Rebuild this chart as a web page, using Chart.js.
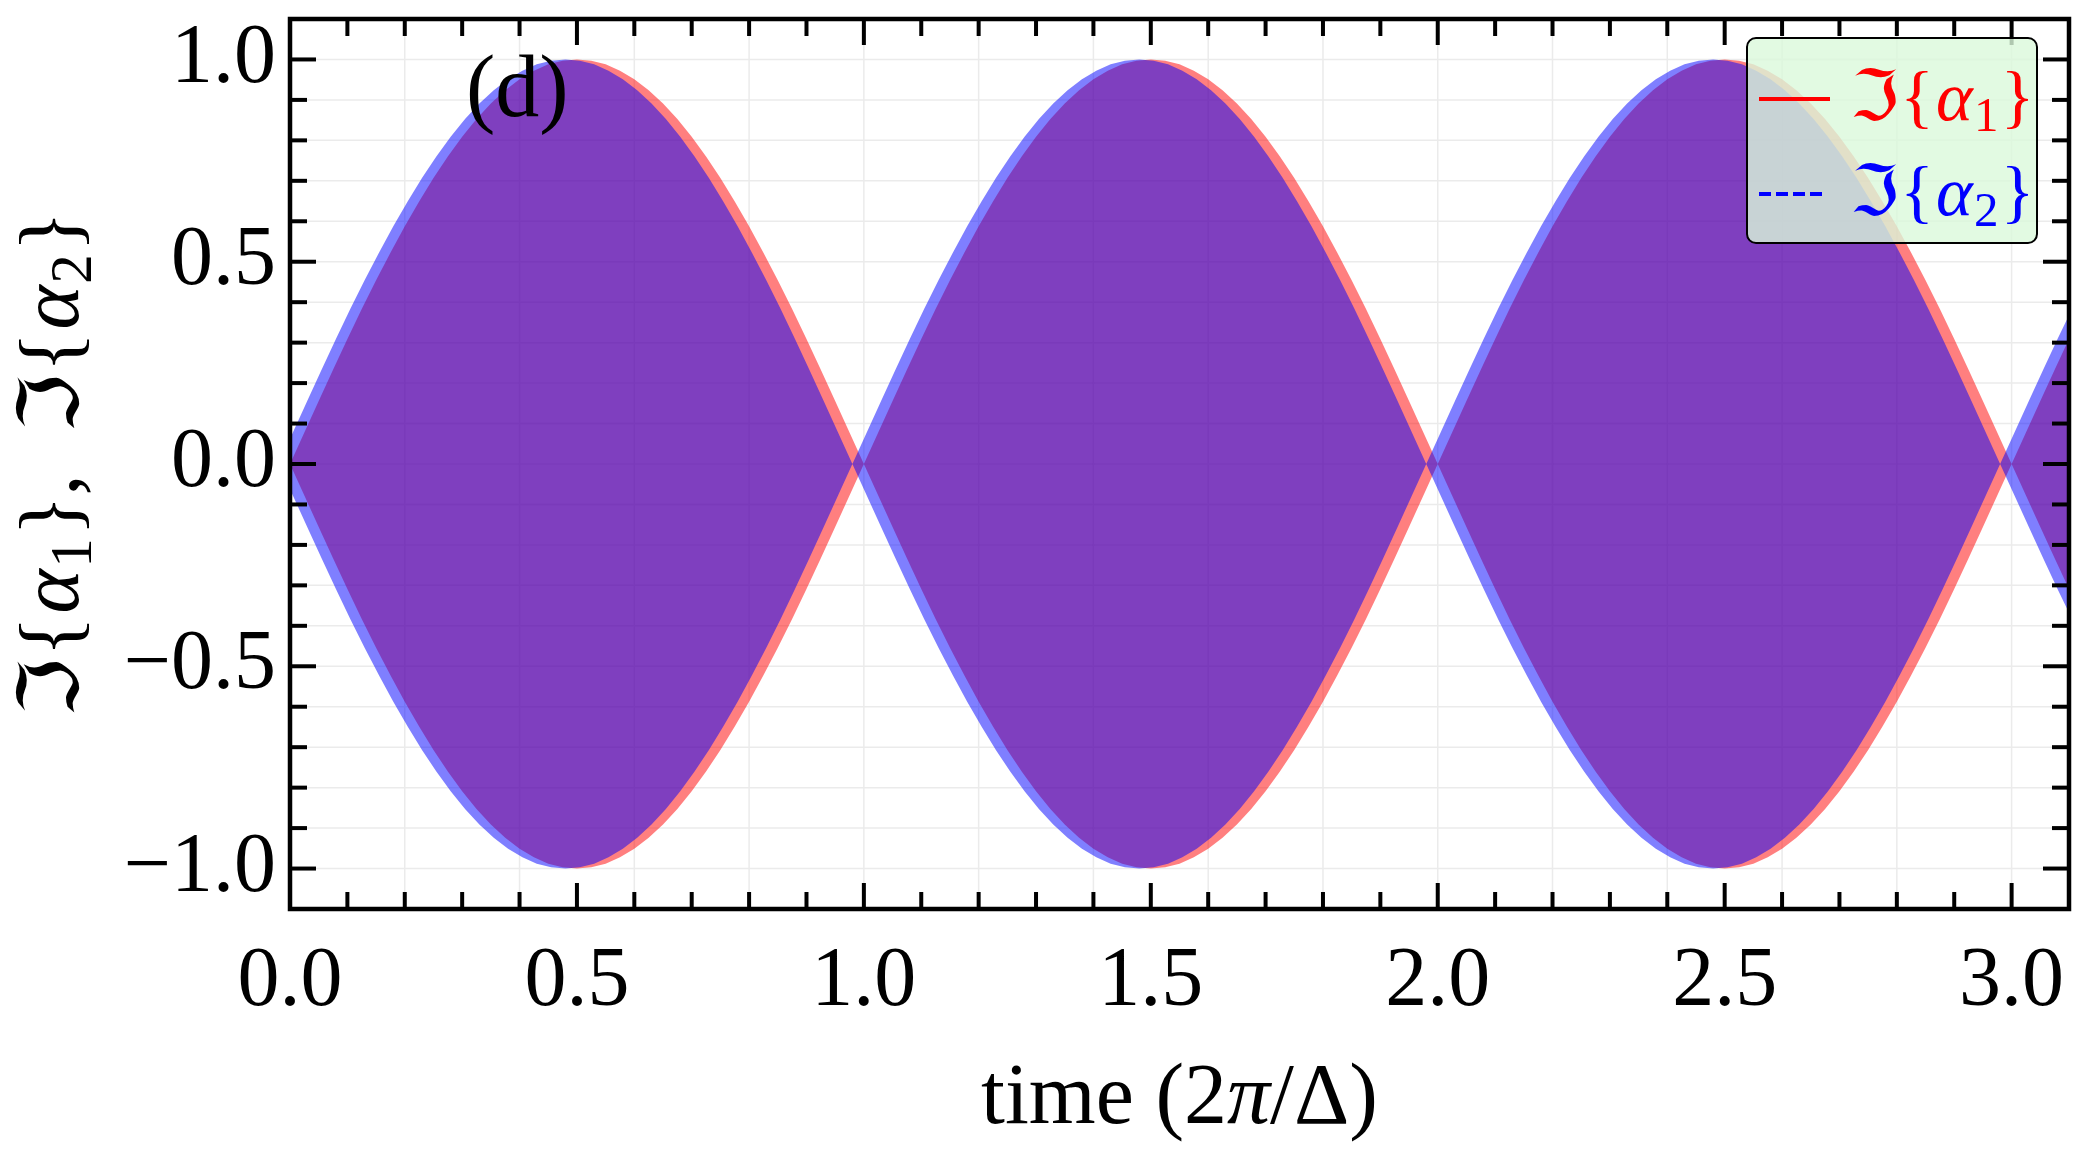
<!DOCTYPE html>
<html><head><meta charset="utf-8">
<script src="https://cdn.jsdelivr.net/npm/chart.js@4.4.1/dist/chart.umd.min.js"></script>
<style>html,body{margin:0;padding:0;background:#fff;}canvas{display:block;}</style>
</head><body>
<canvas id="c" width="2084" height="1161"></canvas>
<script>
// ---- data (envelope of the fast oscillation) ----
const seriesLabels = ['\u2111{\u03b1\u2081}', '\u2111{\u03b1\u2082}'];
const timeA1 = [
 0.000,0.025,0.050,0.075,0.100,0.125,0.150,0.175,0.200,0.225,
 0.250,0.275,0.300,0.325,0.350,0.375,0.400,0.425,0.450,0.475,
 0.500,0.525,0.550,0.575,0.600,0.625,0.650,0.675,0.700,0.725,
 0.750,0.775,0.800,0.825,0.850,0.875,0.900,0.925,0.950,0.975,
 1.000,1.025,1.050,1.075,1.100,1.125,1.150,1.175,1.200,1.225,
 1.250,1.275,1.300,1.325,1.350,1.375,1.400,1.425,1.450,1.475,
 1.500,1.525,1.550,1.575,1.600,1.625,1.650,1.675,1.700,1.725,
 1.750,1.775,1.800,1.825,1.850,1.875,1.900,1.925,1.950,1.975,
 2.000,2.025,2.050,2.075,2.100,2.125,2.150,2.175,2.200,2.225,
 2.250,2.275,2.300,2.325,2.350,2.375,2.400,2.425,2.450,2.475,
 2.500,2.525,2.550,2.575,2.600,2.625,2.650,2.675,2.700,2.725,
 2.750,2.775,2.800,2.825,2.850,2.875,2.900,2.925,2.950,2.975,
 3.000,3.025,3.050,3.075,3.100];
const envA1 = [
 0.000,0.078,0.156,0.233,0.309,0.383,0.454,0.522,0.588,0.649,
 0.707,0.760,0.809,0.853,0.891,0.924,0.951,0.972,0.988,0.997,
 1.000,0.997,0.988,0.972,0.951,0.924,0.891,0.853,0.809,0.760,
 0.707,0.649,0.588,0.522,0.454,0.383,0.309,0.233,0.156,0.078,
 0.000,0.078,0.156,0.233,0.309,0.383,0.454,0.522,0.588,0.649,
 0.707,0.760,0.809,0.853,0.891,0.924,0.951,0.972,0.988,0.997,
 1.000,0.997,0.988,0.972,0.951,0.924,0.891,0.853,0.809,0.760,
 0.707,0.649,0.588,0.522,0.454,0.383,0.309,0.233,0.156,0.078,
 0.000,0.078,0.156,0.233,0.309,0.383,0.454,0.522,0.588,0.649,
 0.707,0.760,0.809,0.853,0.891,0.924,0.951,0.972,0.988,0.997,
 1.000,0.997,0.988,0.972,0.951,0.924,0.891,0.853,0.809,0.760,
 0.707,0.649,0.588,0.522,0.454,0.383,0.309,0.233,0.156,0.078,
 0.000,0.078,0.156,0.233,0.309];
const timeA2 = [
 0.000,
 0.005,0.030,0.055,0.080,0.105,0.130,0.155,0.180,0.205,0.230,
 0.255,0.280,0.305,0.330,0.355,0.380,0.405,0.430,0.455,0.480,
 0.505,0.530,0.555,0.580,0.605,0.630,0.655,0.680,0.705,0.730,
 0.755,0.780,0.805,0.830,0.855,0.880,0.905,0.930,0.955,0.980,
 1.005,1.030,1.055,1.080,1.105,1.130,1.155,1.180,1.205,1.230,
 1.255,1.280,1.305,1.330,1.355,1.380,1.405,1.430,1.455,1.480,
 1.505,1.530,1.555,1.580,1.605,1.630,1.655,1.680,1.705,1.730,
 1.755,1.780,1.805,1.830,1.855,1.880,1.905,1.930,1.955,1.980,
 2.005,2.030,2.055,2.080,2.105,2.130,2.155,2.180,2.205,2.230,
 2.255,2.280,2.305,2.330,2.355,2.380,2.405,2.430,2.455,2.480,
 2.505,2.530,2.555,2.580,2.605,2.630,2.655,2.680,2.705,2.730,
 2.755,2.780,2.805,2.830,2.855,2.880,2.905,2.930,2.955,2.980,
 3.005,3.030,3.055,3.080,
 3.100];
const envA2 = [
 0.063,
 0.078,0.156,0.233,0.309,0.383,0.454,0.522,0.588,0.649,0.707,
 0.760,0.809,0.853,0.891,0.924,0.951,0.972,0.988,0.997,1.000,
 0.997,0.988,0.972,0.951,0.924,0.891,0.853,0.809,0.760,0.707,
 0.649,0.588,0.522,0.454,0.383,0.309,0.233,0.156,0.078,0.000,
 0.078,0.156,0.233,0.309,0.383,0.454,0.522,0.588,0.649,0.707,
 0.760,0.809,0.853,0.891,0.924,0.951,0.972,0.988,0.997,1.000,
 0.997,0.988,0.972,0.951,0.924,0.891,0.853,0.809,0.760,0.707,
 0.649,0.588,0.522,0.454,0.383,0.309,0.233,0.156,0.078,0.000,
 0.078,0.156,0.233,0.309,0.383,0.454,0.522,0.588,0.649,0.707,
 0.760,0.809,0.853,0.891,0.924,0.951,0.972,0.988,0.997,1.000,
 0.997,0.988,0.972,0.951,0.924,0.891,0.853,0.809,0.760,0.707,
 0.649,0.588,0.522,0.454,0.383,0.309,0.233,0.156,0.078,0.000,
 0.078,0.156,0.233,0.309,
 0.368];
const xTickValues = [0.0,0.5,1.0,1.5,2.0,2.5,3.0];
const xTickLabels = ['0.0','0.5','1.0','1.5','2.0','2.5','3.0'];
const yTickValues = [-1.0,-0.5,0.0,0.5,1.0];
const yTickLabels = ['\u22121.0','\u22120.5','0.0','0.5','1.0'];
const panelLabel = '(d)';
const xTitle = ['time ', '(2', '\u03c0', '/\u0394)'];

// ---- styling ----
const SERIF = "'Liberation Serif','DejaVu Serif',serif";
const FRAK = "'DejaVu Serif','DejaVu Sans',serif";
const RED = 'rgba(255,0,0,0.5)', BLUE = 'rgba(0,0,255,0.5)';

function band(t, env, sign){ return t.map((v,i)=>({x:v, y:sign*env[i]})); }

function imRuns(sub, size){
  return [
    {t:'\u2111', f:`${size}px ${FRAK}`, gap:size*0.02},
    {t:'{', f:`${size}px ${SERIF}`, gap:size*0.03},
    {t:'\u03b1', f:`italic ${size}px ${SERIF}`, gap:size*0.02},
    {t:sub, f:`${Math.round(size*0.7)}px ${SERIF}`, dy:size*0.15, gap:size*0.03},
    {t:'}', f:`${size}px ${SERIF}`}
  ];
}
function runsWidth(ctx, runs){ let w=0; for(const r of runs){ctx.font=r.f; w+=ctx.measureText(r.t).width+(r.gap||0);} return w; }
function drawRuns(ctx, runs, x, y){ for(const r of runs){ ctx.font=r.f; ctx.fillText(r.t, x, y+(r.dy||0)); x+=ctx.measureText(r.t).width+(r.gap||0);} return x; }

const framePlugin = {
  id:'frame',
  beforeDatasetsDraw(chart){
    const {ctx, chartArea:a, scales:{x,y}} = chart;
    ctx.save();
    ctx.beginPath(); ctx.rect(a.left,a.top,a.right-a.left,a.bottom-a.top); ctx.clip();
    ctx.strokeStyle='#ebebeb'; ctx.lineWidth=1.5;
    for(let i=1;i<=15;i++){ const p=x.getPixelForValue(i*0.2); ctx.beginPath(); ctx.moveTo(p,a.top); ctx.lineTo(p,a.bottom); ctx.stroke(); }
    for(let i=-10;i<=10;i++){ const p=y.getPixelForValue(i*0.1); ctx.beginPath(); ctx.moveTo(a.left,p); ctx.lineTo(a.right,p); ctx.stroke(); }
    ctx.restore();
  },
  afterDatasetsDraw(chart){
    const {ctx, chartArea:a, scales:{x,y}} = chart;
    ctx.save();
    ctx.strokeStyle='#000'; ctx.lineWidth=4; ctx.lineCap='butt';
    const seg=(x1,y1,x2,y2)=>{ctx.beginPath();ctx.moveTo(x1,y1);ctx.lineTo(x2,y2);ctx.stroke();};
    for(let i=1;i<=31;i++){ const v=i*0.1; if(v>x.max-1e-6) break; const p=x.getPixelForValue(v); const L=(i%5===0)?26:17; seg(p,a.bottom,p,a.bottom-L); seg(p,a.top,p,a.top+L); }
    for(let i=-10;i<=10;i++){ const p=y.getPixelForValue(i*0.1); const L=(i%5===0)?26:17; seg(a.left,p,a.left+L,p); seg(a.right,p,a.right-L,p); }
    ctx.lineWidth=4.5; ctx.strokeRect(a.left,a.top,a.right-a.left,a.bottom-a.top);
    ctx.fillStyle='#000'; ctx.textBaseline='alphabetic'; ctx.textAlign='left';
    ctx.font=`88px ${SERIF}`; ctx.fillText(panelLabel, 466, 116);
    // legend
    ctx.beginPath();
    ctx.roundRect(1747,38,290,205,9);
    ctx.fillStyle='rgba(219,249,219,0.8)'; ctx.fill();
    ctx.lineWidth=2; ctx.strokeStyle='#000'; ctx.stroke();
    ctx.lineWidth=4;
    ctx.strokeStyle='#ff0000'; seg(1759,99,1830,99);
    ctx.strokeStyle='#0000ff'; ctx.setLineDash([12,5]); seg(1759,194,1822,194); ctx.setLineDash([]);
    ctx.fillStyle='#ff0000'; drawRuns(ctx, imRuns('1',70), 1850, 120);
    ctx.fillStyle='#0000ff'; drawRuns(ctx, imRuns('2',70), 1850, 215);
    // x title
    ctx.fillStyle='#000';
    const xr=[{t:xTitle[0],f:`86px ${SERIF}`},{t:xTitle[1],f:`86px ${SERIF}`},{t:xTitle[2],f:`italic 86px ${SERIF}`},{t:xTitle[3],f:`86px ${SERIF}`}];
    const xw=runsWidth(ctx,xr); drawRuns(ctx,xr,(a.left+a.right)/2-xw/2,1123);
    // y title
    const yr=[...imRuns('1',84), {t:',  ', f:`84px ${SERIF}`}, ...imRuns('2',84)];
    const yw=runsWidth(ctx,yr);
    ctx.translate(78,(a.top+a.bottom)/2); ctx.rotate(-Math.PI/2);
    drawRuns(ctx,yr,-yw/2,0);
    ctx.restore();
  }
};

const hidden = {borderColor:'rgba(0,0,0,0)', borderWidth:0, pointRadius:0, tension:0};
new Chart(document.getElementById('c'), {
  type:'line',
  data:{datasets:[
    {label:seriesLabels[1], data:band(timeA2,envA2,1), fill:'+1', backgroundColor:BLUE, ...hidden},
    {label:seriesLabels[1]+' lower', data:band(timeA2,envA2,-1), fill:false, ...hidden},
    {label:seriesLabels[0], data:band(timeA1,envA1,1), fill:'+1', backgroundColor:RED, ...hidden},
    {label:seriesLabels[0]+' lower', data:band(timeA1,envA1,-1), fill:false, ...hidden}
  ]},
  options:{
    responsive:false, animation:false, devicePixelRatio:1,
    layout:{padding:{top:19,right:15,left:0,bottom:0}},
    plugins:{legend:{display:false}, tooltip:{enabled:false}},
    scales:{
      x:{type:'linear', min:0, max:3.1,
         afterFit(s){s.height=252; s.paddingLeft=0; s.paddingRight=0;},
         afterBuildTicks(s){s.ticks=xTickValues.map(v=>({value:v}));},
         grid:{display:false, drawTicks:false}, border:{display:false},
         ticks:{font:{family:SERIF,size:84}, color:'#000', padding:24, maxRotation:0, autoSkip:false,
                callback:(v,i)=>xTickLabels[i]}},
      y:{type:'linear', min:-1.1, max:1.1,
         afterFit(s){s.width=290; s.paddingTop=0; s.paddingBottom=0;},
         afterBuildTicks(s){s.ticks=yTickValues.map(v=>({value:v}));},
         grid:{display:false, drawTicks:false}, border:{display:false},
         ticks:{font:{family:SERIF,size:84}, color:'#000', padding:14, autoSkip:false,
                callback:(v,i)=>yTickLabels[i]}}
    }
  },
  plugins:[framePlugin]
});
</script>
</body></html>
